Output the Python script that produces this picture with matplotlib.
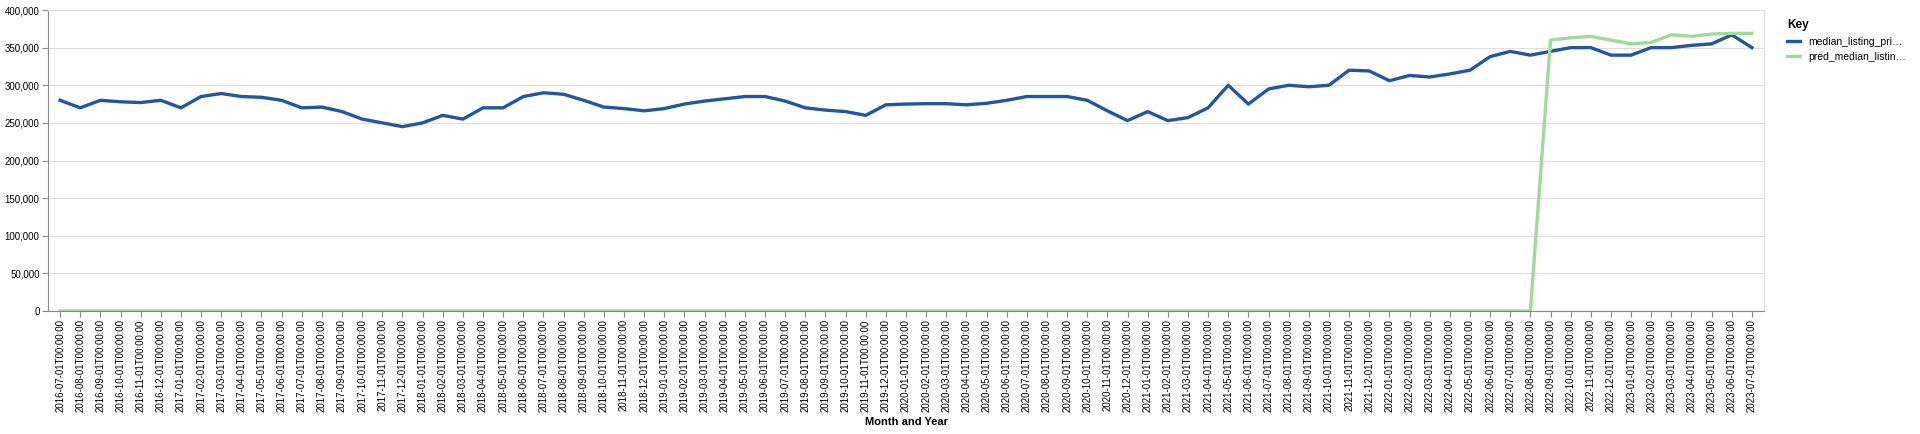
import matplotlib.pyplot as plt
import matplotlib.ticker as mticker
import pandas as pd

months = pd.date_range("2016-07-01", "2023-07-01", freq="MS")
month_labels = [m.strftime("%Y-%m-%dT00:00:00") for m in months]

median_price = [
    280000, 270000, 280000, 278000, 277000, 280000,
    270000, 285000, 289000, 285000, 284000, 280000, 270000, 271000, 265000, 255000, 250000, 245000,
    250000, 260000, 255000, 270000, 270000, 285000, 290000, 288000, 280000, 271000, 269000, 266000,
    269000, 275000, 279000, 282000, 285000, 285000, 279000, 270000, 267000, 265000, 260000, 274000,
    275000, 275500, 275500, 274000, 276000, 280000, 285000, 285000, 285000, 280000, 266000, 253000,
    265000, 253000, 257000, 270000, 300000, 275000, 295000, 300000, 298000, 300000, 320000, 319000,
    306000, 313000, 311000, 315000, 320000, 338000, 345000, 340000, 345000, 350000, 350000, 340000,
    340000, 350000, 350000, 353000, 355000, 367000, 350000,
]
pred_price = [0] * 74 + [
    360000, 363000, 365000, 360000, 355000, 357000, 367000, 365000, 368000, 369000, 369000,
]

plt.rcParams["font.family"] = ["Liberation Sans", "DejaVu Sans"]
fig = plt.figure(figsize=(19.2, 4.34), dpi=100)
# axes box in pixels: left 48, right 1764, top 10, bottom 311
ax = fig.add_axes([48 / 1920, 1 - 311 / 434, (1764 - 48) / 1920, 301 / 434])

x = list(range(len(months)))
ax.plot(x, median_price, color="#2456a0", lw=2.4, label="median_listing_pri…")
ax.plot(x, pred_price, color="#a1d99b", lw=2.4, label="pred_median_listin…")

ax.set_xlim(-0.6, len(months) - 0.4)
ax.set_ylim(0, 400000)
ax.yaxis.set_major_locator(mticker.MultipleLocator(50000))
ax.yaxis.set_major_formatter(mticker.FuncFormatter(lambda v, p: f"{int(v):,}"))
ax.set_xticks(x)
ax.set_xticklabels(month_labels, rotation=90, fontsize=7)
ax.tick_params(axis="y", labelsize=7, length=4, color="#888888", pad=2)
ax.tick_params(axis="x", length=4, color="#888888", pad=2)
ax.grid(axis="y", color="#dddddd", lw=0.8)
ax.set_axisbelow(True)
for s in ["top", "right"]:
    ax.spines[s].set_color("#dddddd")
for s in ["left", "bottom"]:
    ax.spines[s].set_color("#888888")

ax.set_ylabel("Median Listing Price:", fontsize=8, fontweight="bold", labelpad=3)
ax.set_xlabel("Month and Year", fontsize=8, fontweight="bold", labelpad=3)

leg = ax.legend(loc="upper left", bbox_to_anchor=(1.008, 1.0), frameon=False,
                fontsize=7.5, title="Key", handlelength=1.2, alignment="left")
leg.get_title().set_fontweight("bold")
leg.get_title().set_fontsize(8.5)

fig.savefig("out.png", dpi=100)
